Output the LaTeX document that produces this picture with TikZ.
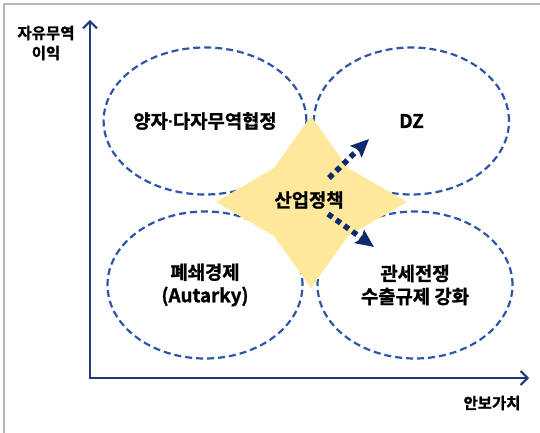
\documentclass[tikz,border=0pt]{standalone}
\usepackage{fontspec}
\setmainfont{Noto Sans CJK KR}[BoldFont={Noto Sans CJK KR Bold},BoldFeatures={FakeBold=1.2}]
\newfontfamily\dotfont{Noto Sans}[FakeBold=1.5]
\usetikzlibrary{arrows.meta,shapes.geometric}
\definecolor{axisblue}{HTML}{1B3A7C}
\definecolor{dashblue}{HTML}{2D56A8}
\definecolor{staryellow}{HTML}{FDE89C}
\definecolor{arrownavy}{HTML}{0C2A6C}
\begin{document}
\begin{tikzpicture}[x=1pt,y=-1pt,
  zone/.style={ellipse, draw=dashblue, line width=2.2pt, dash pattern=on 7pt off 4pt,
    minimum width=195pt, minimum height=147pt, inner sep=0pt},
  lbl/.style={font=\bfseries\fontsize{18.8}{23}\selectfont, align=center, text=black},
  axlbl/.style={font=\bfseries\fontsize{15.5}{20}\selectfont, align=center, text=black},
  axis/.style={draw=axisblue, line width=2pt},
  flow/.style={draw=arrownavy, line width=5.5pt, dash pattern=on 5.5pt off 4.5pt,
    -{Stealth[length=18pt,width=16pt,inset=3pt]}}]
\useasboundingbox (0,0) rectangle (540,433);
\draw[gray!55, line width=1.5pt] (4,433) -- (4,4) -- (540,4);

% zones
\node[zone, lbl] (tl) at (205,121) {양자{\dotfont ·}다자무역협정};
\node[zone, lbl] (tr) at (411.5,121) {DZ};
\node[zone, lbl] (bl) at (205,285) {폐쇄경제\\(Autarky)};
\node[zone, lbl] (br) at (415,285) {관세전쟁\\수출규제 강화};

% star
\fill[staryellow] (311,116) -- (348,168) -- (407,202) -- (348,236) -- (311,288)
  -- (274,236) -- (216,202) -- (274,168) -- cycle;
\node[lbl] (core) at (309,200) {산업정책};

% arrows
\coordinate (a1s) at (329,178);
\coordinate (a1e) at (369,139);
\coordinate (a2s) at (328,214);
\coordinate (a2e) at (374,247);
\draw[flow] (a1s) -- (a1e);
\draw[flow] (a2s) -- (a2e);

% axes
\coordinate (O) at (90,378);
\coordinate (ytop) at (90,20);
\coordinate (xend) at (529,378);
\draw[axis, {Straight Barb[length=7pt,width=14pt]}-{Straight Barb[length=7pt,width=14pt]}]
  (ytop) -- (O) -- (xend);
\node[axlbl] (ylab) at (46,43) {자유무역\\이익};
\node[axlbl] (xlab) at (492,403) {안보가치};
\end{tikzpicture}
\end{document}
